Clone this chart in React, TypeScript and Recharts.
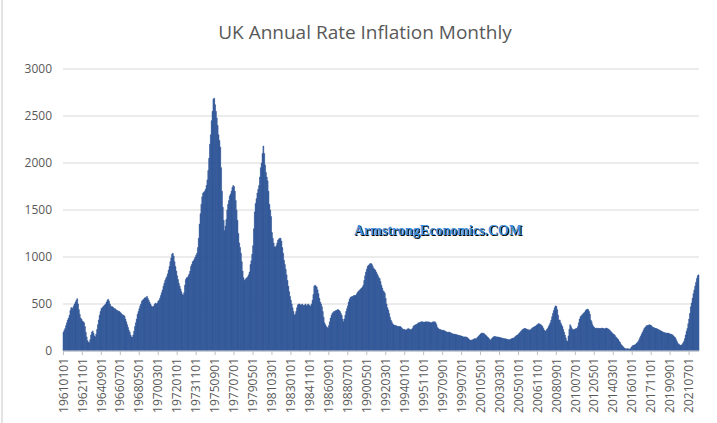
import React from 'react';
import { BarChart, Bar, XAxis, YAxis, CartesianGrid } from 'recharts';

// UK annual inflation rate (x100), monthly, Jan 1961 .. Jun 2022
const startYear = 1961;

const rate1960s = [
  200, 220, 240, 270, 300, 330, 350, 380, 430, 460, 460, 450, // 1961
  480, 500, 520, 540, 557, 500, 440, 390, 350, 340, 320, 310, // 1962
  300, 260, 200, 150, 110, 95, 86, 120, 170, 200, 214, 190, // 1963
  160, 150, 180, 230, 280, 330, 380, 420, 450, 460, 470, 480, // 1964
  490, 500, 520, 540, 550, 530, 500, 480, 470, 470, 460, 450, // 1965
  450, 440, 430, 430, 420, 420, 410, 400, 390, 380, 380, 370, // 1966
  340, 310, 280, 250, 220, 200, 170, 150, 145, 170, 210, 260, // 1967
  300, 340, 390, 420, 450, 480, 500, 530, 540, 550, 560, 570, // 1968
  565, 582, 560, 540, 520, 500, 480, 470, 470, 480, 500, 510, // 1969
];

const rate1970s = [
  500, 510, 530, 540, 560, 590, 620, 650, 690, 720, 750, 770, // 1970
  790, 820, 860, 900, 950, 990, 1030, 1040, 1010, 950, 900, 850, // 1971
  800, 760, 720, 690, 660, 630, 600, 595, 620, 700, 760, 780, // 1972
  780, 800, 820, 850, 900, 920, 950, 960, 980, 1000, 1020, 1040, // 1973
  1100, 1200, 1350, 1460, 1560, 1640, 1680, 1690, 1700, 1720, 1760, 1820, // 1974
  1920, 2050, 2200, 2300, 2450, 2550, 2680, 2690, 2620, 2550, 2480, 2400, // 1975
  2300, 2240, 2170, 1950, 1700, 1530, 1390, 1280, 1330, 1400, 1500, 1560, // 1976
  1600, 1650, 1670, 1700, 1740, 1760, 1750, 1700, 1600, 1500, 1390, 1250, // 1977
  1150, 1100, 1040, 950, 850, 780, 750, 760, 770, 780, 790, 810, // 1978
  840, 920, 960, 1030, 1120, 1300, 1480, 1570, 1620, 1680, 1720, 1760, // 1979
];

const rate1980s = [
  1850, 1950, 2000, 2100, 2180, 2100, 1980, 1900, 1850, 1810, 1700, 1560, // 1980
  1500, 1430, 1260, 1200, 1150, 1110, 1105, 1120, 1150, 1180, 1190, 1200, // 1981
  1200, 1170, 1100, 1040, 965, 920, 870, 810, 750, 690, 630, 580, // 1982
  540, 500, 460, 420, 380, 390, 420, 460, 490, 500, 500, 490, // 1983
  490, 500, 490, 480, 490, 500, 480, 490, 500, 490, 480, 480, // 1984
  500, 540, 600, 690, 700, 690, 680, 650, 610, 560, 520, 500, // 1985
  470, 420, 360, 300, 280, 260, 250, 245, 270, 310, 350, 380, // 1986
  400, 410, 420, 420, 430, 430, 440, 440, 430, 420, 400, 380, // 1987
  340, 310, 340, 380, 420, 450, 480, 520, 550, 570, 575, 580, // 1988
  580, 590, 590, 590, 600, 620, 630, 640, 650, 660, 670, 680, // 1989
];

const rate1990s = [
  700, 750, 800, 840, 870, 900, 910, 920, 930, 930, 920, 900, // 1990
  880, 870, 860, 840, 820, 800, 780, 770, 740, 700, 670, 640, // 1991
  630, 615, 560, 500, 460, 435, 400, 360, 330, 310, 290, 280, // 1992
  275, 270, 270, 265, 260, 260, 260, 260, 250, 240, 230, 230, // 1993
  230, 220, 225, 230, 240, 235, 230, 225, 230, 240, 260, 270, // 1994
  275, 280, 285, 290, 300, 300, 305, 310, 310, 310, 305, 305, // 1995
  310, 310, 310, 305, 310, 305, 300, 300, 305, 310, 310, 310, // 1996
  300, 280, 250, 240, 230, 230, 225, 220, 220, 220, 215, 210, // 1997
  205, 200, 200, 200, 200, 195, 190, 185, 180, 180, 180, 175, // 1998
  175, 170, 170, 165, 165, 160, 160, 155, 150, 150, 150, 150, // 1999
];

const rate2000s = [
  145, 140, 130, 120, 115, 115, 115, 120, 125, 130, 130, 130, // 2000
  140, 150, 160, 170, 180, 190, 190, 190, 185, 175, 170, 160, // 2001
  150, 140, 130, 115, 120, 130, 140, 150, 155, 155, 150, 150, // 2002
  150, 145, 145, 140, 140, 135, 135, 130, 130, 130, 125, 125, // 2003
  120, 120, 120, 125, 130, 135, 135, 140, 150, 160, 165, 170, // 2004
  180, 190, 200, 210, 220, 230, 235, 240, 240, 235, 230, 225, // 2005
  225, 220, 225, 235, 245, 250, 255, 260, 265, 275, 280, 290, // 2006
  290, 285, 280, 270, 260, 240, 220, 210, 215, 230, 240, 260, // 2007
  280, 300, 330, 365, 400, 430, 460, 480, 475, 440, 380, 330, // 2008
  330, 300, 280, 260, 230, 200, 170, 140, 110, 100, 160, 230, // 2009
];

const rate2010s = [
  280, 260, 240, 230, 225, 230, 235, 240, 240, 260, 300, 340, // 2010
  365, 375, 385, 395, 405, 415, 430, 440, 445, 440, 420, 390, // 2011
  330, 310, 280, 260, 250, 240, 240, 245, 240, 240, 240, 240, // 2012
  240, 245, 240, 240, 235, 240, 245, 240, 235, 230, 220, 210, // 2013
  200, 190, 180, 175, 165, 150, 140, 130, 120, 100, 90, 70, // 2014
  60, 50, 40, 30, 25, 20, 25, 25, 20, 20, 25, 40, // 2015
  50, 60, 60, 65, 70, 80, 90, 100, 120, 140, 160, 180, // 2016
  200, 220, 240, 250, 260, 270, 270, 275, 280, 275, 270, 260, // 2017
  250, 250, 245, 240, 240, 235, 230, 225, 220, 215, 210, 205, // 2018
  200, 195, 195, 190, 190, 190, 190, 185, 180, 180, 175, 170, // 2019
];

const rate2020s = [
  160, 150, 140, 120, 100, 80, 75, 65, 60, 60, 70, 85, // 2020
  100, 130, 170, 210, 240, 290, 340, 400, 470, 510, 560, 610, // 2021
  650, 690, 730, 770, 800, 810, // 2022
];

const yTicks = [0, 500, 1000, 1500, 2000, 2500, 3000];

const values = [...rate1960s, ...rate1970s, ...rate1980s, ...rate1990s, ...rate2000s, ...rate2010s, ...rate2020s];

const data = values.map((v, i) => {
  const year = startYear + Math.floor(i / 12);
  const month = (i % 12) + 1;
  return { date: `${year}${month < 10 ? '0' : ''}${month}01`, value: v };
});

const FONT = '"Open Sans", "Liberation Sans", sans-serif';

const XTick = (props: any) => {
  const { x, y, payload } = props;
  return (
    <text
      x={x}
      y={y}
      transform={`rotate(-90, ${x}, ${y})`}
      textAnchor="end"
      dy="0.35em"
      fill="#595959"
      fontSize={12}
      fontFamily={FONT}
    >
      {payload.value}
    </text>
  );
};

export default function App() {
  return (
    <div style={{ position: 'absolute', left: 0, top: 0, width: 717, height: 423, background: '#fff', overflow: 'hidden' }}>
      <div style={{ position: 'absolute', left: 1, top: 0, width: 2, height: 423, background: '#e3e3e3' }} />
      <BarChart
        width={717}
        height={423}
        data={data}
        margin={{ top: 69, right: 18, bottom: 0, left: 0 }}
        barCategoryGap={0}
        barGap={0}
      >
        <CartesianGrid vertical={false} stroke="#d9d9d9" strokeWidth={1} />
        <XAxis
          dataKey="date"
          height={72}
          interval={21}
          tick={<XTick />}
          tickSize={4}
          tickMargin={3}
          tickLine={{ stroke: '#bfbfbf' }}
          axisLine={{ stroke: '#d9d9d9' }}
        />
        <YAxis
          domain={[0, 3000]}
          ticks={yTicks}
          width={63}
          axisLine={false}
          tickLine={false}
          tickMargin={5}
          tick={{ fill: '#595959', fontSize: 12, fontFamily: FONT }}
        />
        <Bar dataKey="value" fill="#2e5597" stroke="#2e5597" strokeWidth={0.5} isAnimationActive={false} />
      </BarChart>
      <div
        style={{
          position: 'absolute',
          left: 0,
          top: 20,
          width: 730,
          textAlign: 'center',
          fontFamily: FONT,
          fontSize: 19,
          lineHeight: '24px',
          color: '#595959',
        }}
      >
        UK Annual Rate Inflation Monthly
      </div>
      <div
        style={{
          position: 'absolute',
          left: 354,
          top: 222,
          fontFamily: '"Liberation Serif", "DejaVu Serif", serif',
          fontWeight: 'bold',
          fontSize: 14,
          lineHeight: '18px',
          color: '#3c8ddc',
          textShadow: '1px 1px 0 #000',
          whiteSpace: 'nowrap',
        }}
      >
        ArmstrongEconomics.COM
      </div>
    </div>
  );
}
